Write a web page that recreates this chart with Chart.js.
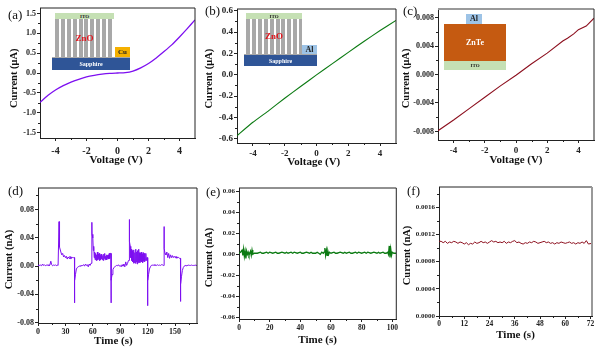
<!DOCTYPE html>
<html>
<head>
<meta charset="utf-8">
<title>I-V and time response curves</title>
<script src="https://cdn.jsdelivr.net/npm/chart.js@4"></script>
<style>
  html, body { margin: 0; padding: 0; background: #fff; width: 600px; height: 350px; overflow: hidden; }
  canvas { position: absolute; display: block; }
  .block { position: absolute; display: flex; align-items: center; justify-content: center; font-family: 'Liberation Serif', serif; font-weight: bold; white-space: nowrap; line-height: 1; }
  .tag { position: absolute; font-family: 'Liberation Serif', serif; font-size: 13px; line-height: 1; color: #111; }
</style>
</head>
<body>
<script>
// values
const voltageA = [-5, -4.5, -4, -3.5, -3, -2.5, -2, -1.5, -1, -0.5, 0, 0.5, 1, 1.5, 2, 2.5, 3, 3.5, 4, 4.5, 5];
const currentA = [-0.74, -0.57, -0.43, -0.32, -0.23, -0.16, -0.1, -0.06, -0.03, -0.01, 0, 0.01, 0.05, 0.13, 0.24, 0.38, 0.54, 0.71, 0.91, 1.12, 1.34];

const voltageB = [-5, -4, -3, -2, -1, 0, 1, 2, 3, 4, 5];
const currentB = [-0.57, -0.445, -0.335, -0.22, -0.11, 0, 0.105, 0.21, 0.315, 0.415, 0.51];

const voltageC = [-5, -4, -3, -2, -1, 0, 1, 2, 3, 3.3, 3.7, 4, 4.5, 5];
const currentC = [-0.0079, -0.0064, -0.0048, -0.0032, -0.0016, -0.0001, 0.0015, 0.003, 0.0047, 0.0051, 0.0057, 0.0063, 0.0068, 0.0079];

const timeD = [
  0, 1, 2, 3, 4, 5, 6, 7, 8, 9,
  10, 11, 12, 13, 14, 15, 16, 17, 18, 19,
  20, 21, 22, 22.9, 23, 23.1, 24, 25, 26, 27, 28, 29,
  30, 31, 32, 33, 34, 35, 36, 37, 38, 39, 39.9, 40, 40.1,
  41, 42, 43, 44, 45, 46, 47, 48, 49,
  50, 51, 52, 53, 54, 55, 56, 57, 58, 58.9, 59, 59.1,
  60, 60.5, 61, 61.5, 62, 62.5, 63, 63.5, 64, 64.5, 65, 65.5, 66, 66.5, 67, 67.5, 68, 68.5, 69, 69.5,
  70, 70.5, 71, 71.5, 72, 72.5, 73, 73.5, 74, 74.5, 75, 75.5, 76, 76.5, 77, 77.5, 78, 78.5, 79, 79.9, 80, 80.1,
  81, 82, 83, 84, 85, 86, 87, 88, 89,
  90, 91, 92, 93, 94, 95, 96, 97, 98, 99, 99.9, 100, 100.1,
  101, 101.5, 102, 102.5, 103, 103.5, 104, 104.5, 105, 105.5, 106, 106.5, 107, 107.5, 108, 108.5, 109, 109.5,
  110, 110.5, 111, 111.5, 112, 112.5, 113, 113.5, 114, 114.5, 115, 115.5, 116, 116.5, 117, 117.5, 118, 118.5, 119, 119.9, 120, 120.1,
  121, 122, 123, 124, 125, 126, 127, 128, 129,
  130, 131, 132, 133, 134, 135, 136, 137, 137.9, 138, 138.1, 139,
  140, 141, 142, 143, 144, 145, 146, 147, 148, 149,
  150, 151, 152, 153, 154, 155, 155.9, 156, 156.1, 157, 158, 159,
  160, 161, 162, 163, 164, 165, 166, 167, 168, 169,
  170, 171, 172, 173, 174
];
const currentD = [
  0.001, 0.0015, 0.001, 0.0015, 0.0005, 0.003, 0.001, 0.002, 0.0005, 0.0015,
  0.001, 0.002, 0.0005, 0.0015, 0.007, 0.002, 0.0005, 0.0015, 0.001, 0.002,
  0.0005, 0.0015, 0.001, 0.001, 0.063, 0.032, 0.027, 0.02, 0.016, 0.018, 0.013, 0.015,
  0.012, 0.014, 0.01, 0.013, 0.011, 0.014, 0.01, 0.013, 0.012, 0.012, 0.012, -0.052, -0.02,
  -0.012, -0.004, -0.002, -0.001, 0, 0, 0.001, 0.0005, 0.001,
  0.002, 0, 0.003, 0.001, 0.002, -0.001, 0.003, 0.001, 0.004, 0.004, 0.062, 0.045,
  0.04, 0.022, 0.028, 0.012, 0.02, 0.009, 0.018, 0.01, 0.016, 0.008, 0.02, 0.009, 0.017, 0.011, 0.018, 0.008, 0.015, 0.009, 0.017, 0.01,
  0.016, 0.009, 0.015, 0.008, 0.017, 0.011, 0.018, 0.009, 0.014, 0.01, 0.016, 0.009, 0.015, 0.011, 0.016, 0.01, 0.018, 0.011, 0.018, 0.018, -0.052, -0.02,
  -0.012, -0.005, -0.002, -0.001, 0, 0.001, 0.0005, 0.002, 0,
  0.001, -0.001, 0.002, 0, 0.003, -0.001, 0.006, 0.001, 0.004, 0.008, 0.008, 0.066, 0.035,
  0.028, 0.012, 0.024, 0.008, 0.022, 0.006, 0.02, 0.004, 0.023, 0.005, 0.019, 0.004, 0.024, 0.006, 0.02, 0.003, 0.022, 0.005,
  0.024, 0.006, 0.019, 0.005, 0.018, 0.007, 0.02, 0.006, 0.017, 0.005, 0.019, 0.007, 0.018, 0.006, 0.017, 0.008, 0.018, 0.008, 0.012, 0.012, -0.056, -0.02,
  -0.012, -0.004, -0.001, 0.001, 0.0015, 0.001, 0.002, 0.001, 0.0015,
  0.001, 0.002, 0.001, 0.0015, 0.001, 0.002, 0.002, 0.001, 0.001, 0.056, 0.025, 0.018,
  0.016, 0.02, 0.012, 0.018, 0.011, 0.016, 0.012, 0.015, 0.012, 0.014,
  0.012, 0.014, 0.011, 0.013, 0.012, 0.011, 0.011, -0.05, -0.025, -0.015, -0.006, -0.002,
  0, 0.001, 0.0005, 0.001, 0.001, 0.0015, 0.001, 0.001, 0.0015, 0.001,
  0.001, 0.001, 0.0015, 0.001, 0.001
];

const timeE = [
  0, 1, 2, 2.5, 3, 3.5, 4, 4.5, 5, 5.5,
  6, 6.5, 7, 7.5, 8, 8.5, 9, 10, 12, 14,
  15, 16, 18, 19, 20, 22, 24, 25, 26, 28,
  30, 31, 32, 34, 35, 36, 38, 40, 41, 42,
  44, 46, 47, 48, 50, 51, 52, 53, 54, 55,
  55.5, 56, 56.5, 57, 57.5, 58, 58.5, 59, 60, 62,
  63, 64, 66, 68, 69, 70, 72, 73, 74, 76,
  77, 78, 80, 82, 83, 84, 86, 88, 90, 91,
  92, 94, 95, 96, 97, 97.5, 98, 98.5, 99, 99.5,
  100, 101, 102.5
];
const currentE = [
  0.001, 0.002, 0.004, -0.001, 0.005, -0.002, 0.003, -0.004, 0.003, 0,
  0.002, -0.001, 0.001, 0.003, -0.001, 0.004, 0, 0.001, 0.001, 0.002,
  0.001, 0.001, 0.002, 0.001, 0.002, 0.001, 0.002, 0.001, 0.001, 0.002,
  0.001, 0.002, 0.001, 0.002, 0.001, 0.002, 0.001, 0.002, 0.001, 0.001,
  0.002, 0.001, 0.002, 0.001, 0.001, 0.002, 0.001, 0, 0.002, 0.001,
  0.002, 0.006, -0.001, 0.004, -0.001, 0.003, 0, 0.002, 0.001, 0.002,
  0.001, 0.001, 0.002, 0.001, 0.002, 0.001, 0.002, 0.001, 0.001, 0.002,
  0.001, 0.002, 0.001, 0.002, 0.001, 0.002, 0.001, 0.002, 0.001, 0.002,
  0.001, 0.002, 0.001, 0.001, 0.002, 0, 0.008, -0.003, 0.005, -0.001,
  0.002, 0.001, 0.001
];

const timeF = [
  0, 1, 2, 3, 4, 5, 6, 7, 8, 9,
  10, 11, 12, 13, 14, 15, 16, 17, 18, 19,
  20, 21, 22, 23, 24, 25, 26, 27, 28, 29,
  30, 31, 32, 33, 34, 35, 36, 37, 38, 39,
  40, 41, 42, 43, 44, 45, 46, 47, 48, 49,
  50, 51, 52, 53, 54, 55, 56, 57, 58, 59,
  60, 61, 62, 63, 64, 65, 66, 67, 68, 69,
  70, 71, 72.5
];
const currentF = [
  0.0011, 0.0011, 0.00108, 0.0011, 0.00107, 0.00109, 0.00108, 0.0011, 0.00109, 0.00107,
  0.00109, 0.00108, 0.00106, 0.00108, 0.00105, 0.00107, 0.00106, 0.00109, 0.00107, 0.00108,
  0.0011, 0.00108, 0.00109, 0.00107, 0.00109, 0.00111, 0.00109, 0.0011, 0.00108, 0.00109,
  0.00108, 0.0011, 0.00107, 0.00109, 0.00108, 0.0011, 0.00111, 0.00108, 0.00109, 0.00107,
  0.00106, 0.00108, 0.00107, 0.00109, 0.00108, 0.0011, 0.00109, 0.00107, 0.00108, 0.00109,
  0.0011, 0.00108, 0.00109, 0.00107, 0.00108, 0.00106, 0.00108, 0.00107, 0.00109, 0.00108,
  0.00107, 0.00108, 0.00109, 0.00107, 0.00108, 0.00106, 0.00108, 0.00107, 0.00109, 0.00107,
  0.00111, 0.00106, 0.00107
];

// tick labels
const voltageTicks = [-4, -2, 0, 2, 4];
const yTicksA = [-1.5, -1, -0.5, 0, 0.5, 1, 1.5];
const yTicksB = [-0.6, -0.4, -0.2, 0, 0.2, 0.4, 0.6];
const yTicksC = [-0.008, -0.004, 0, 0.004, 0.008];
const xTicksD = [0, 30, 60, 90, 120, 150];
const yTicksD = [-0.08, -0.04, 0, 0.04, 0.08];
const xTicksE = [0, 20, 40, 60, 80, 100];
const yTicksE = [-0.06, -0.04, -0.02, 0, 0.02, 0.04, 0.06];
const xTicksF = [0, 12, 24, 36, 48, 60, 72];
const yTicksF = [0, 0.0004, 0.0008, 0.0012, 0.0016];

const purple = '#7d0ff0';
const green = '#0b7a12';
const darkRed = '#8c0f1e';

// plot = left, top, right, bottom in page pixels, cell = the canvas
const panels = [
  { cell: [0, 0, 200, 175], plot: [40, 8, 195, 138], xs: voltageA, ys: currentA, color: purple, width: 1.3, tension: 0.2,
    xLim: [-5, 5], yLim: [-1.64, 1.64], xTicks: voltageTicks, yTicks: yTicksA, yDec: 1, xFont: 10, yFont: 8, xPad: 4,
    xTitle: 'Voltage (V) ', yTitle: 'Current (μA)    ', xTitleAt: 160, yTitleAt: 14 },
  { cell: [200, 0, 200, 175], plot: [237, 9, 396, 143], xs: voltageB, ys: currentB, color: green, width: 1.1, tension: 0.1,
    xLim: [-5, 5], yLim: [-0.639, 0.617], xTicks: voltageTicks, yTicks: yTicksB, yDec: 1, xFont: 9, yFont: 9, xPad: 2,
    xTitle: 'Voltage (V)  ', yTitle: 'Current (μA)  ', xTitleAt: 162, yTitleAt: 209 },
  { cell: [400, 0, 200, 175], plot: [438, 9, 594, 140], xs: voltageC, ys: currentC, color: darkRed, width: 1.1, tension: 0,
    xLim: [-5, 5], yLim: [-0.0092, 0.0092], xTicks: voltageTicks, yTicks: yTicksC, yDec: 3, xFont: 9, yFont: 8, xPad: 2,
    xTitle: 'Voltage (V)', yTitle: 'Current (μA)   ', xTitleAt: 160, yTitleAt: 406, topColor: '#999', topWidth: 2 },
  { cell: [0, 175, 200, 175], plot: [38, 188, 197, 323], xs: timeD, ys: currentD, color: purple, width: 1, tension: 0,
    xLim: [0, 174], yLim: [-0.0805, 0.1106], xTicks: xTicksD, yTicks: yTicksD, yDec: 2, xFont: 8, yFont: 8, xPad: 1,
    xTitle: 'Time (s)   ', yTitle: 'Current (nA)   ', xTitleAt: 341, yTitleAt: 9 },
  { cell: [200, 175, 200, 175], plot: [239, 188, 397, 319], xs: timeE, ys: currentE, color: green, width: 1.3, tension: 0,
    xLim: [0, 102.6], yLim: [-0.0619, 0.0634], xTicks: xTicksE, yTicks: yTicksE, yDec: 2, xFont: 7.5, yFont: 7, xPad: 2,
    xTitle: 'Time (s)', yTitle: 'Current (nA)   ', xTitleAt: 340, yTitleAt: 209 },
  { cell: [400, 175, 200, 175], plot: [439, 187, 592, 316], xs: timeF, ys: currentF, color: darkRed, width: 1, tension: 0,
    xLim: [0, 72.7], yLim: [0, 0.0019], xTicks: xTicksF, yTicks: yTicksF, yDec: 4, xFont: 7.5, yFont: 7, xPad: 1,
    xTitle: 'Time (s)', yTitle: 'Current (nA)   ', xTitleAt: 335, yTitleAt: 407, rightColor: '#999', rightWidth: 2 },
];

const tags = [
  ['(a)', 8, 8], ['(b)', 205, 4], ['(c)', 403, 4],
  ['(d)', 8, 184], ['(e)', 206, 185], ['(f)', 407, 184],
];

// device sketches: left, top, width, height, fill, text, text colour, text size
const pillars = 'repeating-linear-gradient(90deg,#a8a8a8 0,#a8a8a8 4px,#fff 4px,#fff 5.9px)';
const insetBlocks = [
  [55, 13, 59, 6, '#c5e0b4', 'ITO', '#222', 5],
  [55, 19, 59, 38, pillars, 'ZnO', '#e0141c', 9],
  [52, 57, 78, 1.5, '#a8a8a8', '', '', 0],
  [52, 58, 78, 12, '#2f5597', 'Sapphire', '#fff', 6],
  [115, 47, 15, 10, '#f5b000', 'Cu', '#222', 7],
  [246, 13, 56, 6, '#c5e0b4', 'ITO', '#222', 5],
  [246, 19, 56, 35, pillars, 'ZnO', '#e0141c', 9],
  [244, 54, 73, 1.5, '#a8a8a8', '', '', 0],
  [244, 55, 73, 11, '#2f5597', 'Sapphire', '#fff', 6],
  [302, 45, 15, 9, '#9dc3e6', 'Al', '#222', 8],
  [466, 14, 16, 10, '#9dc3e6', 'Al', '#222', 8],
  [444, 24, 62, 37, '#c55a11', 'ZnTe', '#fff', 8],
  [444, 61, 62, 9, '#c5e0b4', 'ITO', '#222', 5],
];

const serif = "'Liberation Serif', serif";
const xTitleSize = 11;
const yTitleSize = 10.5;
const ink = '#222';

// top and right spines, plus the short unlabelled ticks between the labelled ones
const framePlugin = {
  id: 'frame',
  afterDraw(chart, args, opts) {
    const { ctx, chartArea: a, scales } = chart;
    ctx.save();
    ctx.strokeStyle = opts.topColor || ink;
    ctx.lineWidth = opts.topWidth || 1;
    ctx.beginPath();
    ctx.moveTo(a.left, a.top);
    ctx.lineTo(a.right, a.top);
    ctx.stroke();
    ctx.strokeStyle = opts.rightColor || ink;
    ctx.lineWidth = opts.rightWidth || 1;
    ctx.beginPath();
    ctx.moveTo(a.right, a.top);
    ctx.lineTo(a.right, a.bottom);
    ctx.stroke();

    ctx.strokeStyle = ink;
    ctx.lineWidth = 1;
    ctx.beginPath();
    for (const v of betweenTicks(opts.xTicks, scales.x)) {
      const px = Math.round(scales.x.getPixelForValue(v)) + 0.5;
      ctx.moveTo(px, a.bottom);
      ctx.lineTo(px, a.bottom + 2);
    }
    for (const v of betweenTicks(opts.yTicks, scales.y)) {
      const py = Math.round(scales.y.getPixelForValue(v)) + 0.5;
      ctx.moveTo(a.left, py);
      ctx.lineTo(a.left - 2, py);
    }
    ctx.stroke();
    ctx.restore();
  },
};

function betweenTicks(ticks, scale) {
  const step = ticks[1] - ticks[0];
  const out = [];
  for (const t of ticks) {
    out.push(t - step / 2);
  }
  out.push(ticks[ticks.length - 1] + step / 2);
  return out.filter(v => v > scale.min && v < scale.max);
}

panels.forEach(p => {
  const canvas = document.createElement('canvas');
  const [cx, cy, cw, ch] = p.cell;
  const [left, top, right, bottom] = p.plot;
  canvas.width = cw;
  canvas.height = ch;
  canvas.style.left = cx + 'px';
  canvas.style.top = cy + 'px';
  canvas.style.width = cw + 'px';
  canvas.style.height = ch + 'px';
  document.body.appendChild(canvas);

  new Chart(canvas.getContext('2d'), {
    type: 'line',
    data: {
      labels: p.xs,
      datasets: [{
        data: p.ys,
        borderColor: p.color,
        borderWidth: p.width,
        pointRadius: 0,
        tension: p.tension,
        fill: false,
      }],
    },
    plugins: [framePlugin],
    options: {
      responsive: false,
      animation: false,
      layout: { padding: { left: 0, top: top - cy, right: cx + cw - right, bottom: 0 } },
      plugins: {
        legend: { display: false },
        tooltip: { enabled: false },
        frame: { xTicks: p.xTicks, yTicks: p.yTicks, topColor: p.topColor, topWidth: p.topWidth, rightColor: p.rightColor, rightWidth: p.rightWidth },
      },
      scales: {
        x: {
          type: 'linear',
          min: p.xLim[0],
          max: p.xLim[1],
          afterBuildTicks: s => { s.ticks = p.xTicks.map(v => ({ value: v })); },
          afterFit: s => { s.height = cy + ch - bottom; },
          grid: { drawOnChartArea: false, tickLength: 3, tickColor: ink },
          border: { color: ink, width: 1 },
          ticks: {
            autoSkip: false,
            maxRotation: 0,
            padding: p.xPad,
            color: ink,
            font: { family: serif, size: p.xFont, weight: 'bold' },
            callback: v => String(v),
          },
          title: {
            display: true,
            text: p.xTitle,
            color: '#111',
            font: { family: serif, size: xTitleSize, weight: 'bold' },
            padding: { top: 0, bottom: cy + ch - p.xTitleAt - xTitleSize * 0.6 },
          },
        },
        y: {
          min: p.yLim[0],
          max: p.yLim[1],
          afterBuildTicks: s => { s.ticks = p.yTicks.map(v => ({ value: v })); },
          afterFit: s => { s.width = left - cx; },
          grid: { drawOnChartArea: false, tickLength: 3, tickColor: ink },
          border: { color: ink, width: 1 },
          ticks: {
            autoSkip: false,
            padding: 1,
            color: ink,
            font: { family: serif, size: p.yFont, weight: 'bold' },
            callback: v => v.toFixed(p.yDec),
          },
          title: {
            display: true,
            text: p.yTitle,
            color: '#111',
            font: { family: serif, size: yTitleSize, weight: 'bold' },
            padding: { top: p.yTitleAt - cx - yTitleSize * 0.6, bottom: 0 },
          },
        },
      },
    },
  });
});

insetBlocks.forEach(b => {
  const el = document.createElement('div');
  el.className = 'block';
  el.style.cssText = `left:${b[0]}px;top:${b[1]}px;width:${b[2]}px;height:${b[3]}px;background:${b[4]};color:${b[6]};font-size:${b[7]}px`;
  el.textContent = b[5];
  document.body.appendChild(el);
});

tags.forEach(t => {
  const el = document.createElement('div');
  el.className = 'tag';
  el.style.left = t[1] + 'px';
  el.style.top = t[2] + 'px';
  el.textContent = t[0];
  document.body.appendChild(el);
});
</script>
</body>
</html>
